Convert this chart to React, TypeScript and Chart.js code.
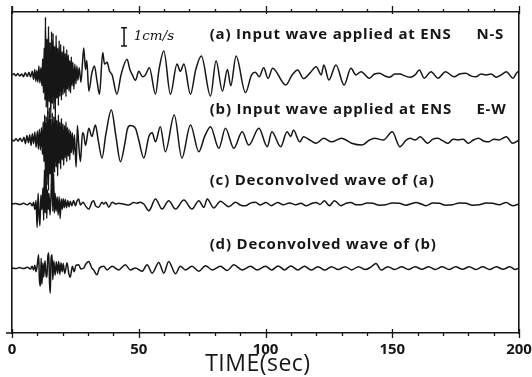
import { useEffect, useRef } from "react";
import { Chart, registerables } from "chart.js";

Chart.register(...registerables);

// ---- data (time in sec, velocity in cm/s) ----
const waveA: [number, number][] = [
  [0, 0], [0.8, 0.06], [1.5, -0.05], [2.3, 0.08], [3.0, -0.06], [3.8, 0.05], [4.5, -0.1], [5.2, 0.12], [6.0, -0.08], [6.7, 0.15], [7.3, -0.12], [8.0, 0.2],
  [8.5, -0.25], [9.0, 0.3], [9.4, -0.35], [9.8, 0.25], [10.2, -0.4], [10.6, 0.5], [11.0, -0.45], [11.4, 0.4], [11.8, -0.6],
  [12.1, 0.9], [12.4, -1.0], [12.7, 1.5], [13.0, -1.4], [13.2, 3.2], [13.5, -1.8], [13.8, 2.0], [14.1, -2.2], [14.4, 2.7], [14.7, -1.5], [15.0, 1.8], [15.3, -2.4],
  [15.6, 2.4], [15.9, -1.6], [16.2, 2.3], [16.5, -1.9], [16.8, 1.6], [17.1, -2.0], [17.4, 2.2], [17.7, -1.3], [18.0, 1.5], [18.3, -1.7], [18.6, 1.9], [18.9, -1.2],
  [19.2, 1.7], [19.5, -1.4], [19.8, 1.3], [20.1, -1.1], [20.4, 1.6], [20.7, -1.0], [21.0, 1.2], [21.3, -1.2], [21.6, 1.4], [21.9, -0.8], [22.2, 1.1], [22.5, -0.9],
  [22.8, 0.8], [23.1, -1.0], [23.4, 1.0], [23.7, -0.6], [24.0, 0.7], [24.4, -0.8], [24.8, 0.6], [25.2, -0.5], [25.6, 0.5], [26.0, -0.3],
  [26.5, 0.4], [27.2, -0.4], [28.3, 1.5], [29.0, 0.3], [29.5, 0.8], [30.3, -0.9], [31.5, 0.1], [32.5, 0.5], [33.5, -0.3], [34.5, -1.07], [35.8, 1.24], [36.5, 0.6],
  [37.5, 0.7], [38.5, 0.2], [39.5, 0.0], [41.4, -1.07], [43.0, 0.0], [45.4, 0.87], [46.5, 0.3], [47.5, 0.0], [48.7, -0.3], [50.0, 0.2], [51.5, -0.1], [52.6, 0.0],
  [54.2, 0.4], [56.6, -1.07], [58.0, 0.3], [59.9, 1.33], [62.5, -1.07], [65.1, 0.6], [66.4, 0.2], [67.8, 0.6], [70.4, -1.07], [72.5, 0.3], [74.7, 1.05], [78.3, -1.17],
  [80.5, 0.78], [83.0, -0.9], [85.0, 0.3], [86.3, -0.6], [88.4, 1.05], [92.1, -0.98], [94.5, 0.0], [96.0, 0.15], [97.5, -0.1], [99.3, 0.4], [101.0, -0.2], [102.8, 0.37],
  [108.0, -0.56], [110.5, 0.0], [112.7, 0.28], [115.0, -0.2], [117.5, 0.1], [120.0, 0.46], [122.0, 0.0], [123.0, 0.55], [125.0, -0.28], [127.8, 0.55], [131.0, -0.56],
  [133.7, 0.37], [135.7, 0.0], [137.7, 0.18], [141.0, -0.18], [143.0, 0.05], [145.0, 0.1], [147.0, -0.05], [149.0, -0.13], [151.0, 0.05], [153.0, 0.05], [155.0, -0.05],
  [157.0, -0.13], [159.0, 0.0], [160.7, 0.28], [162.6, -0.18], [165.3, 0.18], [168.0, -0.18], [171.0, 0.18], [174.4, -0.1], [176.5, 0.05], [179.0, 0.1], [181.0, -0.05],
  [183.0, -0.1], [185.0, 0.05], [187.0, 0.0], [189.0, 0.05], [191.0, -0.13], [193.0, 0.0], [195.0, 0.18], [197.6, -0.18], [199.6, 0.18], [200, 0.1],
];

const waveB: [number, number][] = [
  [0, 0], [0.8, -0.05], [1.6, 0.07], [2.4, -0.06], [3.2, 0.1], [4.0, -0.08], [4.7, 0.15], [5.3, -0.2], [5.9, 0.25], [6.5, -0.15], [7.0, 0.3], [7.5, -0.3],
  [8.0, 0.35], [8.5, -0.2], [9.0, 0.45], [9.5, -0.4], [10.0, 0.5], [10.4, -0.5], [10.8, 0.6], [11.2, -0.55], [11.6, 0.7], [12.0, -0.8],
  [12.3, 1.0], [12.6, -1.2], [12.9, 1.4], [13.2, -2.0], [13.5, 1.3], [13.8, -2.5], [14.1, 1.6], [14.4, -2.8], [14.7, 1.8], [15.0, -1.9], [15.3, 1.2], [15.6, -2.6],
  [15.9, 1.5], [16.2, -2.2], [16.5, 1.3], [16.8, -1.8], [17.1, 1.7], [17.4, -1.5], [17.7, 1.1], [18.0, -2.0], [18.3, 1.4], [18.6, -1.3], [18.9, 1.0], [19.2, -1.6],
  [19.5, 1.2], [19.8, -1.1], [20.1, 0.9], [20.4, -1.4], [20.7, 0.8], [21.0, -1.0], [21.3, 1.0], [21.6, -1.2], [21.9, 0.7], [22.2, -0.9], [22.5, 0.6], [22.8, -1.1],
  [23.1, 0.5], [23.4, -0.7], [23.8, 0.4], [24.2, -0.8],
  [24.6, 0.3], [25.3, -1.5], [25.8, 0.8], [26.3, -0.2], [27.0, -1.2], [27.8, 0.4], [28.3, 0.3], [29.0, -0.3], [30.3, 0.65], [31.5, 0.2], [32.9, 0.83], [34.0, 0.0],
  [35.5, -1.0], [37.0, 0.3], [39.2, 1.67], [41.0, 0.2], [42.8, -1.2], [44.5, -0.2], [45.5, 0.6], [46.7, 0.8], [48.7, 0.65], [50.0, 0.0], [52.0, -1.0], [54.0, 0.2],
  [55.3, 0.4], [56.6, -0.1], [58.5, 0.74], [60.5, -0.65], [64.0, 1.39], [67.0, -1.0], [70.4, 0.83], [73.7, -0.65], [76.0, 0.2], [78.3, 0.74], [81.6, -0.46],
  [84.2, 0.65], [87.5, -0.46], [90.8, 0.46], [93.4, -0.28], [97.4, 0.65], [100.7, -0.37], [102.5, 0.46], [106.0, -0.37], [108.5, 0.46], [110.0, 0.2], [111.0, 0.55],
  [113.5, -0.1], [115.0, 0.18], [118.0, -0.05], [120.0, -0.18], [123.0, 0.1], [126.0, -0.1], [130.0, 0.1], [134.0, -0.18], [138.0, -0.28], [141.0, 0.0], [143.0, 0.1],
  [146.5, 0.0], [150.0, 0.46], [153.0, -0.37], [155.5, 0.0], [157.0, 0.1], [159.0, 0.0], [161.0, 0.18], [164.0, -0.18], [166.0, 0.05], [168.0, 0.1], [170.0, -0.05],
  [172.0, -0.18], [174.0, 0.05], [176.0, 0.0], [178.0, 0.05], [180.0, -0.18], [182.0, 0.0], [184.0, 0.1], [186.0, -0.05], [188.0, -0.1], [190.0, 0.05], [192.0, 0.0],
  [195.0, 0.18], [197.5, -0.18], [200.0, 0.0],
];

const waveC: [number, number][] = [
  [0, 0], [1.5, 0.03], [3, -0.03], [4.5, 0.04], [6, -0.04], [7.2, 0.06], [8.0, -0.1], [8.5, 0.1], [9.0, -0.3], [9.5, 0.2], [9.9, -1.3], [10.3, 0.6], [10.6, -0.4],
  [11.0, -1.2], [11.4, 0.5], [11.8, -0.3], [12.2, 0.9], [12.5, -0.9], [12.8, 1.9], [13.1, -0.5], [13.4, 1.8], [13.7, -0.8], [14.0, 0.8], [14.3, -0.3], [14.6, 0.6],
  [15.0, -0.6], [15.4, 0.5], [15.8, 1.9], [16.1, -0.4], [16.4, 1.7], [16.7, -0.5], [17.0, 0.6], [17.4, -0.4], [17.8, 0.4], [18.2, -0.6], [18.6, 0.4], [19.0, -0.8],
  [19.4, 0.3], [19.8, -0.3], [20.2, 0.3], [20.6, -0.2], [21.0, 0.25], [21.5, -0.2], [22.0, 0.2], [22.5, -0.15], [23.0, 0.15], [23.6, -0.1], [24.3, 0.2], [25.0, -0.1],
  [25.6, 0.15], [26.3, 0.28], [27.0, -0.05], [28.0, 0.1], [29.0, -0.1], [30.3, -0.28], [31.5, 0.1], [32.2, 0.18], [33.0, -0.1], [34.2, -0.18], [35.5, 0.1], [36.2, 0.0],
  [37.0, 0.1], [38.2, -0.18], [39.5, 0.1], [41.0, 0.0], [42.0, 0.05], [44.0, 0.0], [46.0, -0.05], [48.0, 0.08], [49.3, 0.05], [50.5, 0.1], [52.0, 0.0], [54.0, -0.37],
  [56.6, 0.28], [59.2, -0.28], [61.8, 0.18], [64.5, -0.28], [67.8, 0.22], [71.0, -0.28], [73.7, 0.18], [75.7, -0.18], [77.0, 0.28], [79.6, -0.22], [82.2, 0.15],
  [85.5, -0.15], [88.2, 0.1], [90.0, -0.05], [92.1, -0.1], [94.0, 0.05], [96.0, 0.1], [98.0, -0.05], [100.2, 0.09], [102.2, -0.09], [104.8, 0.09], [107.0, -0.04],
  [109.5, 0.06], [112.0, -0.04], [114.0, 0.04], [116.0, -0.09], [118.0, 0.02], [119.9, 0.09], [121.5, -0.02], [123.2, 0.18], [125.2, -0.09], [127.2, 0.18],
  [129.8, -0.09], [131.8, 0.04], [133.7, 0.09], [135.7, -0.04], [137.7, -0.04], [140.0, 0.06], [142.3, 0.04], [145.0, -0.06], [147.5, -0.04], [150.0, 0.06],
  [152.8, 0.04], [155.5, -0.06], [157.5, 0.02], [159.4, 0.09], [161.5, 0.0], [163.3, -0.09], [166.0, 0.06], [168.6, 0.04], [171.0, -0.06], [173.8, -0.04],
  [176.5, 0.06], [179.1, 0.04], [181.7, -0.06], [184.3, -0.04], [187.0, 0.06], [189.6, 0.04], [192.2, -0.04], [194.9, 0.09], [197.5, -0.09], [200, 0],
];

const waveD: [number, number][] = [
  [0, 0], [1.5, -0.03], [3, 0.03], [4.5, -0.03], [6, 0.04], [7.3, -0.05], [7.9, 0.1], [8.5, -0.1], [9.0, 0.15], [9.5, -0.2], [10.0, 0.2], [10.5, 0.74], [10.8, -0.6],
  [11.2, -1.0], [11.5, 0.55], [11.8, -0.9], [12.2, 0.3], [12.5, -0.5], [13.0, 0.4], [13.5, -0.45], [13.8, -0.5], [14.1, 0.6], [14.5, 0.83], [14.8, -0.8], [15.1, -1.39],
  [15.4, 0.5], [15.8, 0.74], [16.1, -0.65], [16.5, 0.4], [17.0, -0.4], [17.5, 0.35], [18.0, -0.3], [18.4, 0.37], [18.9, -0.35], [19.3, 0.3], [19.8, -0.2], [20.2, 0.25],
  [20.8, -0.3], [21.7, 0.3], [22.4, -0.3], [23.0, -0.5], [23.8, 0.1], [24.5, -0.2], [25.2, 0.15], [26.3, 0.18], [27.2, -0.05], [28.3, 0.0], [29.0, 0.2], [30.3, 0.37],
  [31.5, 0.0], [32.2, -0.1], [33.5, -0.37], [34.5, 0.0], [36.2, 0.1], [37.5, -0.1], [39.5, 0.1], [42.1, -0.1], [44.7, 0.18], [46.7, -0.1], [48.7, 0.0], [51.3, -0.18],
  [53.3, 0.18], [55.3, -0.28], [57.9, 0.31], [59.9, -0.28], [61.8, 0.37], [64.5, -0.31], [66.4, 0.1], [68.4, -0.1], [71.0, 0.1], [73.7, -0.18], [76.3, 0.13],
  [79.0, -0.1], [82.2, 0.1], [84.9, -0.13], [87.5, 0.18], [90.8, -0.1], [94.1, 0.1], [96.7, -0.1], [100.0, 0.1], [102.5, -0.1], [105.0, 0.12], [107.5, -0.1],
  [110.0, 0.12], [112.7, -0.1], [115.4, 0.1], [118.0, -0.11], [120.7, 0.08], [123.4, -0.11], [126.0, 0.08], [128.7, -0.08], [131.4, 0.08], [134.0, -0.1],
  [136.7, 0.08], [139.4, -0.08], [141.5, 0.05], [143.6, 0.26], [145.6, -0.11], [148.3, 0.08], [151.0, -0.08], [153.7, 0.07], [156.4, -0.08], [159.0, 0.08],
  [161.7, -0.07], [164.4, 0.08], [167.0, -0.08], [169.7, 0.07], [172.4, -0.08], [175.0, 0.08], [177.7, -0.07], [180.4, 0.08], [183.0, -0.08], [185.7, 0.07],
  [188.4, -0.08], [191.0, 0.08], [193.7, -0.07], [196.4, 0.08], [198.5, -0.08], [200, 0],
];

const TRACES = [waveA, waveB, waveC, waveD];
const TRACE_OFFSETS = [14.31, 10.7, 7.15, 3.6];
const TRACE_LABELS = [
  "(a) Input wave applied at ENS",
  "(b) Input wave applied at ENS",
  "(c) Deconvolved wave of (a)",
  "(d) Deconvolved wave of (b)",
];
const LABEL_Y = [16.53, 12.37, 8.45, 4.9];
const COMPONENT_LABELS = ["N-S", "E-W"];
const MAJOR_TICKS = [0, 50, 100, 150, 200];
const MINOR_TICKS = [0, 10, 20, 30, 40, 50, 60, 70, 80, 90, 100, 110, 120, 130, 140, 150, 160, 170, 180, 190, 200];
const X_TITLE = "TIME(sec)";
const SCALE_LABEL = "1cm/s";
const SCALE_BAR = { t: 44.2, from: 15.92, to: 16.92 };

const INK = "#161616";

export default function App() {
  const ref = useRef<HTMLCanvasElement>(null);

  useEffect(() => {
    const canvas = ref.current;
    if (!canvas) return;

    const inkPlugin = {
      id: "ink",
      afterDraw(chart: any) {
        const ctx = chart.ctx as CanvasRenderingContext2D & { letterSpacing?: string };
        const xs = chart.scales.x;
        const ys = chart.scales.y;
        const { top, bottom, left } = chart.chartArea;
        ctx.save();
        ctx.strokeStyle = INK;
        ctx.fillStyle = INK;
        // small frame overshoots at the lower-left and upper-left corners
        ctx.lineWidth = 1.6;
        ctx.beginPath();
        ctx.moveTo(left, top);
        ctx.lineTo(left, top - 6);
        ctx.moveTo(left, bottom);
        ctx.lineTo(left - 6, bottom);
        ctx.stroke();
        ctx.lineWidth = 1.3;
        // tick marks
        MINOR_TICKS.forEach((v) => {
          const px = Math.round(xs.getPixelForValue(v)) + 0.5;
          const major = MAJOR_TICKS.includes(v);
          ctx.beginPath();
          ctx.moveTo(px, bottom - (major ? 4 : 0));
          ctx.lineTo(px, bottom + (major ? 5 : 3));
          ctx.moveTo(px, top + (major ? 2 : 0));
          ctx.lineTo(px, top - (major ? 6 : 3));
          ctx.stroke();
        });
        // tick labels
        ctx.font = 'bold 15px "Open Sans"';
        ctx.textAlign = "center";
        ctx.textBaseline = "middle";
        MAJOR_TICKS.forEach((v) => {
          ctx.fillText(String(v), xs.getPixelForValue(v), bottom + 17);
        });
        // scale bar
        const bx = xs.getPixelForValue(SCALE_BAR.t);
        const by1 = ys.getPixelForValue(SCALE_BAR.from);
        const by2 = ys.getPixelForValue(SCALE_BAR.to);
        ctx.lineWidth = 1.5;
        ctx.beginPath();
        ctx.moveTo(bx, by1);
        ctx.lineTo(bx, by2);
        ctx.moveTo(bx - 3, by1);
        ctx.lineTo(bx + 3, by1);
        ctx.moveTo(bx - 3, by2);
        ctx.lineTo(bx + 3, by2);
        ctx.stroke();
        ctx.font = 'italic 13.5px "DejaVu Serif"';
        ctx.textAlign = "left";
        ctx.fillText(SCALE_LABEL, xs.getPixelForValue(48), ys.getPixelForValue((SCALE_BAR.from + SCALE_BAR.to) / 2));
        // trace labels
        ctx.font = 'bold 15px "Open Sans"';
        ctx.letterSpacing = "0.8px";
        TRACE_LABELS.forEach((s, i) => {
          ctx.fillText(s, xs.getPixelForValue(78), ys.getPixelForValue(LABEL_Y[i]));
        });
        COMPONENT_LABELS.forEach((s, i) => {
          ctx.fillText(s, xs.getPixelForValue(183.2), ys.getPixelForValue(LABEL_Y[i]));
        });
        // axis title
        ctx.font = '500 23px "Open Sans"';
        ctx.letterSpacing = "0.5px";
        ctx.textAlign = "center";
        ctx.fillText(X_TITLE, xs.getPixelForValue(97), bottom + 31);
        ctx.restore();
      },
    };

    const hiddenAxis = (position: string, horizontal: boolean) => ({
      type: "linear" as const,
      position,
      min: 0,
      max: horizontal ? 200 : 17.8,
      display: true,
      grid: { display: false, drawTicks: false },
      border: { display: true, color: INK, width: 1.6 },
      ticks: { display: false },
      afterFit: (s: any) => {
        if (horizontal) s.height = 0;
        else s.width = 0;
      },
    });

    const bottomAxis = { ...hiddenAxis("bottom", true), afterFit: (s: any) => { s.height = 44; } };

    const chart = new Chart(canvas, {
      type: "line",
      data: {
        datasets: TRACES.map((w, i) => ({
          data: w.map(([t, v]) => ({ x: t, y: TRACE_OFFSETS[i] + v })),
          xAxisID: "x",
          yAxisID: "y",
          borderColor: INK,
          borderWidth: 1.5,
          pointRadius: 0,
          fill: false,
          cubicInterpolationMode: "monotone" as const,
        })),
      },
      options: {
        animation: false,
        responsive: false,
        maintainAspectRatio: false,
        layout: { padding: { left: 12, right: 13, top: 12, bottom: 0 } },
        plugins: { legend: { display: false }, tooltip: { enabled: false } },
        scales: {
          x: bottomAxis as any,
          xTop: hiddenAxis("top", true) as any,
          y: hiddenAxis("left", false) as any,
          yRight: hiddenAxis("right", false) as any,
        },
      },
      plugins: [inkPlugin],
    });

    return () => chart.destroy();
  }, []);

  return (
    <div style={{ position: "fixed", left: 0, top: 0, width: 532, height: 377, background: "#fff" }}>
      <canvas ref={ref} width={532} height={377} style={{ display: "block", width: 532, height: 377 }} />
    </div>
  );
}
